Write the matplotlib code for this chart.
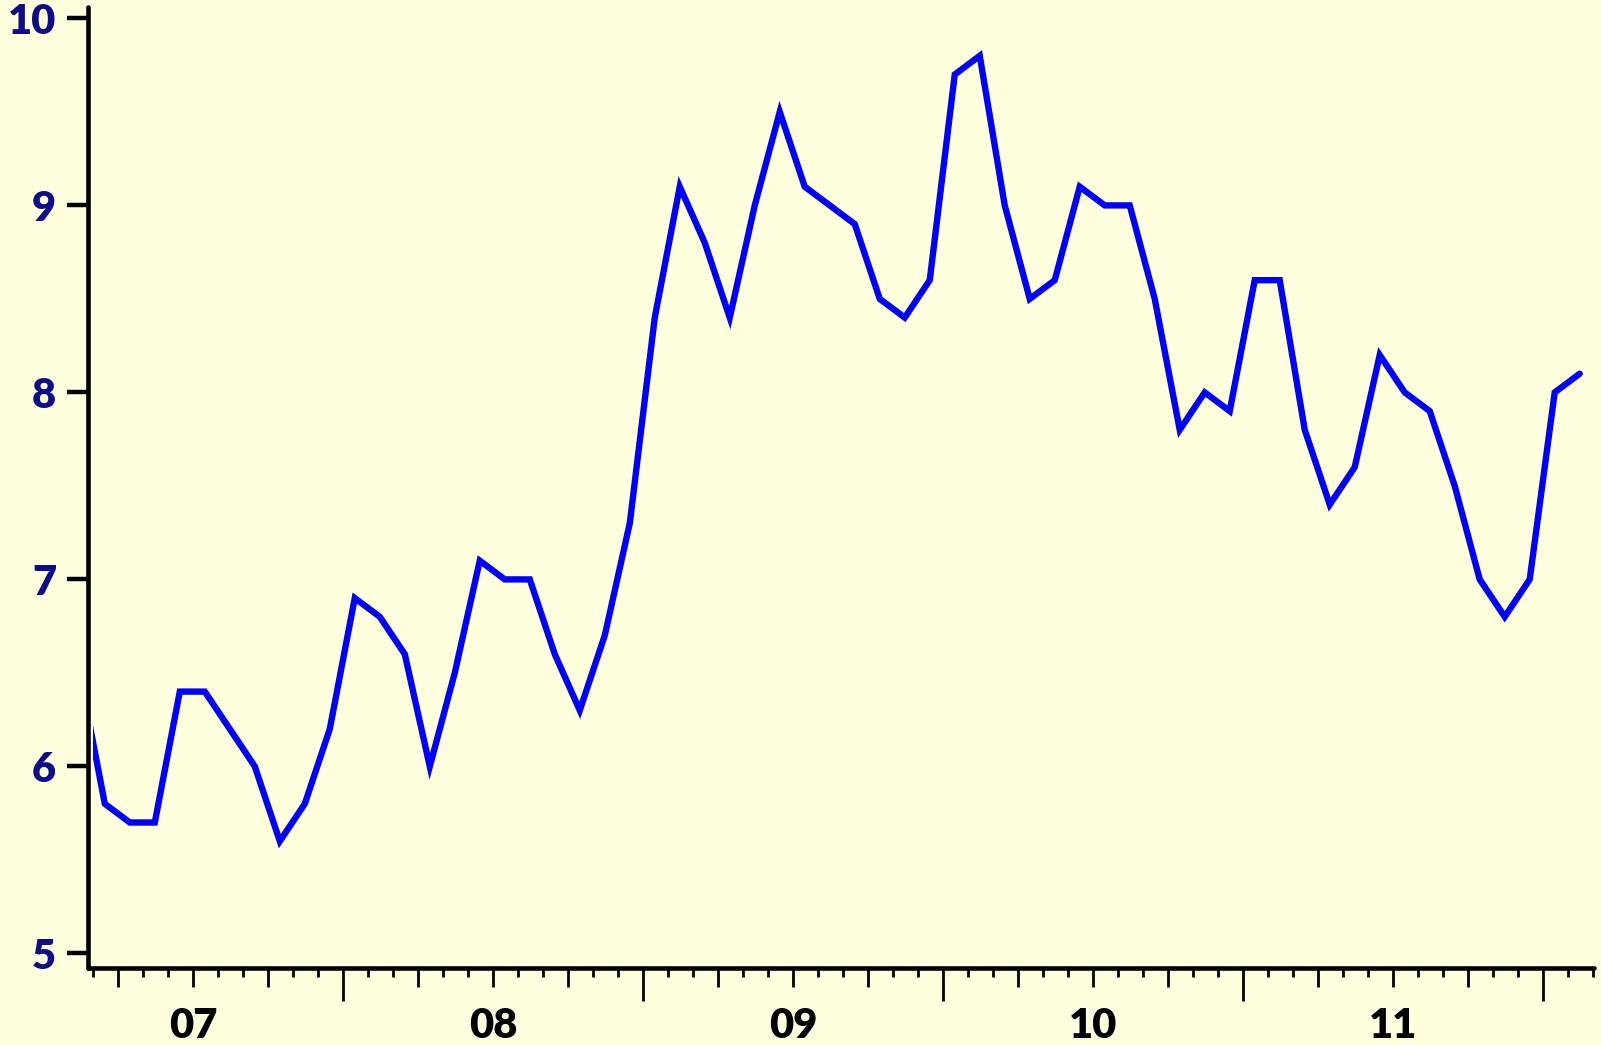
import numpy as np
import matplotlib
matplotlib.use('Agg')
import matplotlib.pyplot as plt
from matplotlib.patches import Rectangle

# monthly values, Feb 2007 .. Feb 2012 (first one sits left of the axis)
values = [6.5,
          5.8, 5.7, 5.7, 6.4, 6.4, 6.2, 6.0, 5.6, 5.8, 6.2, 6.9,
          6.8, 6.6, 6.0, 6.5, 7.1, 7.0, 7.0, 6.6, 6.3, 6.7, 7.3, 8.4,
          9.1, 8.8, 8.4, 9.0, 9.5, 9.1, 9.0, 8.9, 8.5, 8.4, 8.6, 9.7,
          9.8, 9.0, 8.5, 8.6, 9.1, 9.0, 9.0, 8.5, 7.8, 8.0, 7.9, 8.6,
          8.6, 7.8, 7.4, 7.6, 8.2, 8.0, 7.9, 7.5, 7.0, 6.8, 7.0, 8.0,
          8.1]
first_month = 1            # months since Jan 2007 (Feb 2007 = 1)
year_labels = ['07', '08', '09', '10', '11']
y_ticks = [5, 6, 7, 8, 9, 10]

bg = '#FFFFDD'
months = np.arange(len(values)) + first_month + 0.47

fig = plt.figure(figsize=(16.01, 10.45), dpi=100, facecolor=bg)
ax = fig.add_axes([0.055, 0.0737, 0.9406, 0.9196])
ax.set_facecolor(bg)

line, = ax.plot(months, values, color='#0000FF', lw=4.6,
                solid_joinstyle='miter', solid_capstyle='round')
# the line is cut a few pixels right of the axis
line.set_clip_path(Rectangle((0.0033, 0), 1, 1, transform=ax.transAxes))

ax.set_xlim(1.8, 62.04)
ax.set_ylim(4.922, 10.061)

for s in ['top', 'right']:
    ax.spines[s].set_visible(False)
for s in ['left', 'bottom']:
    ax.spines[s].set_linewidth(3.3)
    ax.spines[s].set_capstyle('round')

ax.set_yticks(y_ticks)
ax.set_yticklabels([str(v) for v in y_ticks])
ax.tick_params(axis='y', length=15, width=3.2, pad=8, labelsize=30,
               labelcolor='#0C0C8C')

# year labels as major ticks (no marks), months as minor ticks
ax.xaxis.remove_overlapping_locs = False
ax.set_xticks([6 + 12 * i for i in range(len(year_labels))])
ax.set_xticklabels(year_labels)
ax.tick_params(axis='x', which='major', length=0, pad=28, labelsize=30)

month_ticks = np.arange(2, 63)
ax.set_xticks(month_ticks, minor=True)
ax.tick_params(axis='x', which='minor', length=6.5, width=2)
for m, t in zip(month_ticks, ax.xaxis.get_minor_ticks()):
    if m % 12 == 0:
        t.tick1line.set_markersize(24)
    elif m % 3 == 0:
        t.tick1line.set_markersize(14)

for lab in ax.get_xticklabels() + ax.get_yticklabels():
    lab.set_fontfamily('Lato')
    lab.set_fontweight('heavy')

fig.savefig('out.png', dpi=100, facecolor=bg)
